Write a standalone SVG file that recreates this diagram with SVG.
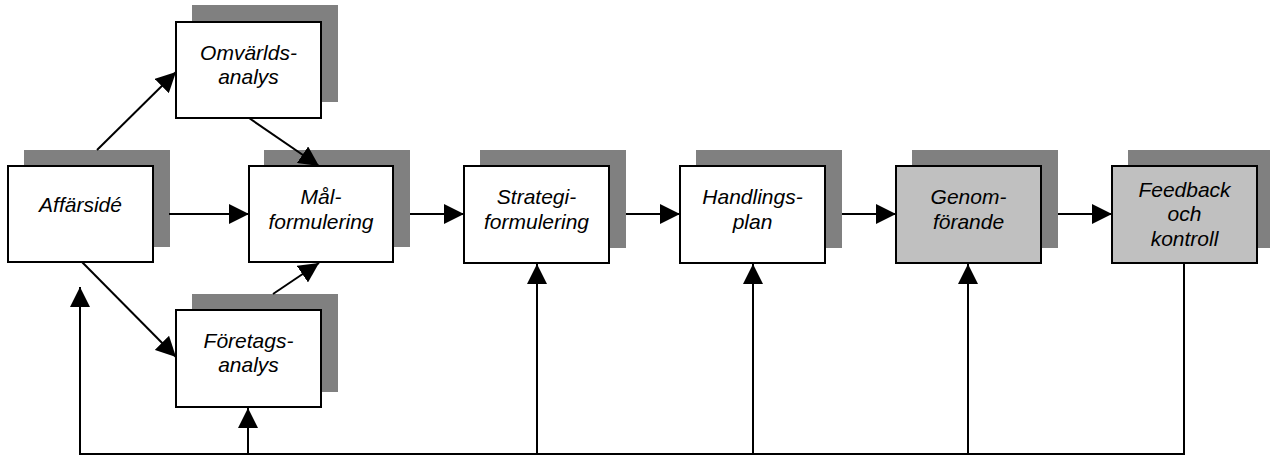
<svg xmlns="http://www.w3.org/2000/svg" width="1270" height="456" viewBox="0 0 1270 456">
  <defs>
    <style>
      .shadow { fill: #808080; }
      .box { fill: #ffffff; stroke: #000000; stroke-width: 2; }
      .box.dark { fill: #c0c0c0; }
      .label { font-family: "Liberation Sans", Arial, sans-serif; font-style: italic; font-size: 21px; fill: #000000; text-anchor: middle; }
      .conn { fill: none; stroke: #000000; stroke-width: 2; }
      .arrow { marker-end: url(#head); }
    </style>
    <marker id="head" markerUnits="userSpaceOnUse" viewBox="0 0 20 20" refX="20" refY="10" markerWidth="20" markerHeight="20" orient="auto">
      <path d="M0,0 L20,10 L0,20 Z" fill="#000000"/>
    </marker>
  </defs>

  <rect width="1270" height="456" fill="#ffffff"/>

  <g id="affarside">
    <rect class="shadow" x="24" y="150" width="146" height="97"/>
    <rect class="box" x="8" y="166" width="145" height="96"/>
    <text class="label" x="80.5" y="212">Affärsidé</text>
  </g>

  <g id="omvarldsanalys">
    <rect class="shadow" x="192" y="5" width="146" height="97"/>
    <rect class="box" x="176" y="22" width="145" height="96"/>
    <text class="label" x="248.5" y="60">Omvärlds-</text>
    <text class="label" x="248.5" y="84">analys</text>
  </g>

  <g id="malformulering">
    <rect class="shadow" x="264" y="150" width="146" height="97"/>
    <rect class="box" x="249" y="166" width="144" height="96"/>
    <text class="label" x="321" y="204">Mål-</text>
    <text class="label" x="321" y="229">formulering</text>
  </g>

  <g id="foretagsanalys">
    <rect class="shadow" x="192" y="294" width="146" height="98"/>
    <rect class="box" x="176" y="310" width="145" height="97"/>
    <text class="label" x="248.5" y="348">Företags-</text>
    <text class="label" x="248.5" y="372">analys</text>
  </g>

  <g id="strategiformulering">
    <rect class="shadow" x="480" y="150" width="146" height="98"/>
    <rect class="box" x="464" y="166" width="145" height="97"/>
    <text class="label" x="536.5" y="204">Strategi-</text>
    <text class="label" x="536.5" y="229">formulering</text>
  </g>

  <g id="handlingsplan">
    <rect class="shadow" x="696" y="150" width="146" height="98"/>
    <rect class="box" x="680" y="166" width="145" height="97"/>
    <text class="label" x="752.5" y="204">Handlings-</text>
    <text class="label" x="752.5" y="229">plan</text>
  </g>

  <g id="genomforande">
    <rect class="shadow" x="912" y="150" width="146" height="98"/>
    <rect class="box dark" x="896" y="166" width="145" height="97"/>
    <text class="label" x="968.5" y="204">Genom-</text>
    <text class="label" x="968.5" y="229">förande</text>
  </g>

  <g id="feedback">
    <rect class="shadow" x="1128" y="150" width="146" height="98"/>
    <rect class="box dark" x="1112" y="166" width="145" height="97"/>
    <text class="label" x="1184.5" y="197">Feedback</text>
    <text class="label" x="1184.5" y="221">och</text>
    <text class="label" x="1184.5" y="246">kontroll</text>
  </g>

  <!-- connectors, drawn over the boxes and their shadows -->
  <g id="connectors">
    <line class="conn arrow" x1="97" y1="150" x2="176" y2="72"/>
    <line class="conn arrow" x1="249" y1="118" x2="319" y2="166"/>
    <line class="conn arrow" x1="169" y1="214" x2="249" y2="214"/>
    <line class="conn arrow" x1="82" y1="262" x2="176" y2="357"/>
    <line class="conn arrow" x1="273" y1="294" x2="319" y2="263"/>
    <line class="conn arrow" x1="410" y1="214" x2="464" y2="214"/>
    <line class="conn arrow" x1="626" y1="214" x2="680" y2="214"/>
    <line class="conn arrow" x1="842" y1="214" x2="896" y2="214"/>
    <line class="conn arrow" x1="1058" y1="214" x2="1112" y2="214"/>
    <!-- feedback loop along the bottom -->
    <path class="conn arrow" d="M1184,263 L1184,454 L80,454 L80,287"/>
    <line class="conn arrow" x1="248" y1="454" x2="248" y2="408"/>
    <line class="conn arrow" x1="537" y1="454" x2="537" y2="264"/>
    <line class="conn arrow" x1="753" y1="454" x2="753" y2="264"/>
    <line class="conn arrow" x1="968" y1="454" x2="968" y2="264"/>
  </g>
</svg>
